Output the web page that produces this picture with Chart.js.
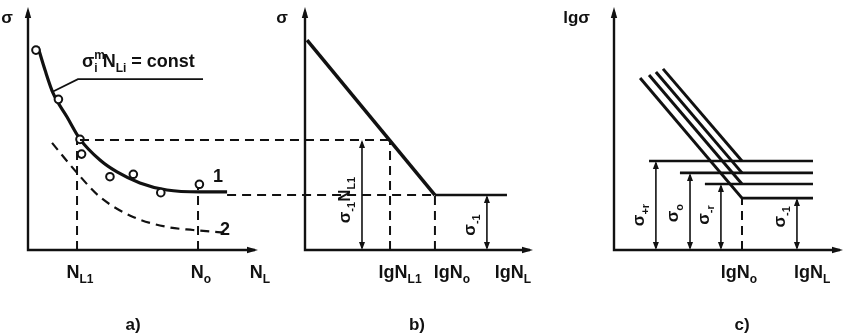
<!DOCTYPE html>
<html>
<head>
  <title>Кривые усталости</title>
  <script src="https://cdn.jsdelivr.net/npm/chart.js"></script>
  <style>
    body { margin: 0; background: #fff; }
    #wrap { position: relative; width: 845px; height: 335px; }
    #wrap canvas { position: absolute; left: 0; top: 0; }
  </style>
</head>
<body>
  <div id="wrap">
    <canvas id="chartA" width="845" height="335"></canvas>
    <canvas id="chartB" width="845" height="335"></canvas>
    <canvas id="chartC" width="845" height="335"></canvas>
  </div>
  <script>
    // a) σ – N, результаты испытаний и кривые
    const aTestN = [0.35, 1.34, 2.29, 2.36, 3.61, 4.64, 5.85, 7.55];
    const aTestS = [8.40, 6.33, 4.65, 4.03, 3.08, 3.18, 2.41, 2.76];
    const aCurve1N = [0.44, 0.75, 1.10, 1.72, 2.29, 3.17, 3.92, 4.93, 6.12, 7.58, 8.77];
    const aCurve1S = [8.53, 7.56, 6.60, 5.59, 4.66, 3.78, 3.28, 2.82, 2.52, 2.44, 2.44];
    const aCurve2N = [1.06, 2.16, 3.17, 4.63, 6.12, 7.27, 8.90];
    const aCurve2S = [4.50, 3.24, 2.23, 1.39, 0.97, 0.84, 0.71];
    const aLeaderN = [1.06, 2.20, 7.71];
    const aLeaderS = [6.64, 7.18, 7.18];
    const aNL1 = 2.16, aN0 = 7.49;
    const aTickAt = [2.29, 7.62, 10.22];
    const aTickText = ['N_{L1}', 'N_{o}', 'N_{L}'];

    // общие уровни напряжений для a) и b)
    const sigL1 = 4.62, sigLim = 2.31;

    // b) σ – lgN
    const bSlopeN = [0.09, 5.70];
    const bSlopeS = [8.82, sigLim];
    const bFlatN = [5.70, 8.86];
    const bLgNL1 = 3.73, bLgN0 = 5.70;
    const bArrowN = [2.50, 7.98];
    const bArrowS = [sigL1, sigLim];
    const bArrowText = ['σ_{-1}N_{L1}', 'σ_{-1}'];
    const bTickAt = [4.17, 6.45, 9.12];
    const bTickText = ['lgN_{L1}', 'lgN_{o}', 'lgN_{L}'];

    // c) lgσ – lgN, четыре коэффициента асимметрии
    const cTopN = [1.14, 1.53, 1.83, 2.14];
    const cTopS = [7.23, 7.35, 7.48, 7.61];
    const cLevel = [2.18, 2.77, 3.24, 3.74];
    const cLevelFrom = [5.59, 3.97, 2.88, 1.53];
    const cArrowN = [7.99, 4.67, 3.32, 1.83];
    const cArrowText = ['σ_{-1}', 'σ_{-r}', 'σ_{o}', 'σ_{+r}'];
    const cKnee = 5.59, cEnd = 8.69;
    const cTickAt = [5.46, 8.65];
    const cTickText = ['lgN_{o}', 'lgN_{L}'];

    const FONT = "'Liberation Sans', Arial, sans-serif";
    const INK = '#111';
    const DASH = [9, 6];

    // текст вида "N_{L1}" / "σ^{m}_{i}"
    function parseRich(s) {
      const parts = [];
      const re = /([_^])\{([^}]*)\}|([^_^]+)/g;
      let m;
      while ((m = re.exec(s))) {
        if (m[3]) parts.push({ t: m[3], k: 'n' });
        else parts.push({ t: m[2], k: m[1] === '_' ? 'sub' : 'sup' });
      }
      parts.forEach((p, i) => {
        p.adv = !(p.k === 'sup' && parts[i + 1] && parts[i + 1].k === 'sub');
      });
      return parts;
    }

    function drawRich(ctx, s, x, y, o) {
      const size = o.size || 18;
      const sub = Math.round(size * 0.66);
      const weight = o.weight || 'bold';
      const parts = parseRich(s);
      const fontOf = p => `${weight} ${p.k === 'n' ? size : sub}px ${FONT}`;
      let w = 0;
      parts.forEach(p => {
        ctx.font = fontOf(p);
        p.w = ctx.measureText(p.t).width;
        if (p.adv) w += p.w;
      });
      ctx.save();
      ctx.translate(x, y);
      if (o.rotate) ctx.rotate(-Math.PI / 2);
      ctx.fillStyle = INK;
      ctx.textBaseline = 'alphabetic';
      ctx.textAlign = 'left';
      let cx = o.align === 'left' ? 0 : o.align === 'right' ? -w : -w / 2;
      parts.forEach(p => {
        ctx.font = fontOf(p);
        const dy = p.k === 'sub' ? size * 0.28 : p.k === 'sup' ? -size * 0.42 : 0;
        ctx.fillText(p.t, cx, dy);
        if (p.adv) cx += p.w;
      });
      ctx.restore();
    }

    // наконечник стрелки, остриё в (x, y), направление (dx, dy)
    function head(ctx, x, y, dx, dy, len, half) {
      ctx.beginPath();
      ctx.moveTo(x, y);
      ctx.lineTo(x - dx * len - dy * half, y - dy * len + dx * half);
      ctx.lineTo(x - dx * len + dy * half, y - dy * len - dx * half);
      ctx.closePath();
      ctx.fill();
    }

    function figurePlugin(cfg) {
      return {
        id: 'figure-' + cfg.name,
        afterDatasetsDraw(chart) {
          const { ctx, chartArea: ca, scales: { x, y } } = chart;
          const x0 = x.getPixelForValue(0), y0 = y.getPixelForValue(0);
          ctx.save();
          ctx.strokeStyle = INK;
          ctx.fillStyle = INK;
          if (cfg.extra) cfg.extra(chart);
          // оси
          ctx.setLineDash([]);
          ctx.lineWidth = 2.4;
          ctx.beginPath();
          ctx.moveTo(x0, y0 + 1.2);
          ctx.lineTo(x0, ca.top);
          ctx.moveTo(x0 - 1.2, y0);
          ctx.lineTo(ca.right, y0);
          ctx.stroke();
          head(ctx, x0, ca.top - 5, 0, -1, 11, 3.2);
          head(ctx, ca.right + 3, y0, 1, 0, 11, 3.2);
          // размерные стрелки
          ctx.lineWidth = 1.6;
          (cfg.arrows || []).forEach(a => {
            const ax = x.getPixelForValue(a.x), top = y.getPixelForValue(a.top);
            ctx.beginPath();
            ctx.moveTo(ax, y0 - 2);
            ctx.lineTo(ax, top + 2);
            ctx.stroke();
            head(ctx, ax, top, 0, -1, 8, 3);
            head(ctx, ax, y0, 0, 1, 8, 3);
            drawRich(ctx, a.text, ax - 12, y.getPixelForValue(a.textAt), { size: 17, rotate: true });
          });
          ctx.restore();
          drawRich(ctx, cfg.yLabel, x0 - cfg.yGap, ca.top + 11, { size: 17, align: 'right' });
          cfg.ticks.forEach(t => drawRich(ctx, t.text, x.getPixelForValue(t.at), y0 + 28, { size: 18 }));
          (cfg.notes || []).forEach(n =>
            drawRich(ctx, n.text, x.getPixelForValue(n.x), y.getPixelForValue(n.y), { size: 18, align: n.align }));
          drawRich(ctx, cfg.caption, x.getPixelForValue(cfg.captionAt), y0 + 80, { size: 17 });
        }
      };
    }

    const pts = (xs, ys) => xs.map((v, i) => ({ x: v, y: ys[i] }));
    function line(data, width, dash, extra) {
      return Object.assign({
        data, showLine: true, borderColor: INK, borderWidth: width,
        borderDash: dash || [], pointRadius: 0, clip: false, fill: false
      }, extra || {});
    }
    function baseOptions(pad, xMax) {
      return {
        responsive: false, animation: false, events: [],
        layout: { padding: pad },
        scales: {
          x: { type: 'linear', min: 0, max: xMax, display: false },
          y: { type: 'linear', min: 0, max: 10, display: false }
        },
        plugins: { legend: { display: false }, tooltip: { enabled: false } }
      };
    }
    const zip = (ats, texts) => ats.map((at, i) => ({ at, text: texts[i] }));

    // ----- a) -----
    const chartA = new Chart(document.getElementById('chartA'), {
      type: 'scatter',
      data: {
        datasets: [
          { data: pts(aTestN, aTestS), showLine: false, pointRadius: 3.8, pointBorderWidth: 2,
            pointBorderColor: INK, pointBackgroundColor: '#fff', clip: false },
          line(pts(aCurve1N, aCurve1S), 3.2, null, { cubicInterpolationMode: 'monotone' }),
          line(pts(aCurve2N, aCurve2S), 2.2, DASH, { cubicInterpolationMode: 'monotone' }),
          line(pts(aLeaderN, aLeaderS), 1.8),
          line([{ x: aNL1, y: 0 }, { x: aNL1, y: sigL1 }], 2, DASH),
          line([{ x: aN0, y: 0 }, { x: aN0, y: aTestS[7] }], 2, DASH)
        ]
      },
      options: baseOptions({ left: 28, right: 590, top: 12, bottom: 85 }, 10),
      plugins: [figurePlugin({
        name: 'a', yLabel: 'σ', yGap: 15,
        ticks: zip(aTickAt, aTickText),
        notes: [
          { x: 2.38, y: 7.69, text: 'σ^{m}_{i} N_{Li} = const', align: 'left' },
          { x: 8.37, y: 2.86, text: '1' },
          { x: 8.68, y: 0.63, text: '2' }
        ],
        caption: 'a)', captionAt: 4.63
      })]
    });

    // ----- b) -----
    const links = [
      { from: aTestN[2], to: bLgNL1, s: sigL1 },
      { from: aCurve1N[aCurve1N.length - 1], to: bLgN0, s: sigLim }
    ];
    new Chart(document.getElementById('chartB'), {
      type: 'scatter',
      data: {
        datasets: [
          line(pts(bSlopeN, bSlopeS), 3.5),
          line(pts(bFlatN, [sigLim, sigLim]), 2.4),
          line([{ x: bLgNL1, y: 0 }, { x: bLgNL1, y: sigL1 }], 2, DASH),
          line([{ x: bLgN0, y: 0 }, { x: bLgN0, y: sigLim }], 2, DASH)
        ]
      },
      options: baseOptions({ left: 305, right: 315, top: 12, bottom: 85 }, 9.87),
      plugins: [figurePlugin({
        name: 'b', yLabel: 'σ', yGap: 17,
        ticks: zip(bTickAt, bTickText),
        arrows: [
          { x: bArrowN[0], top: bArrowS[0], text: bArrowText[0], textAt: 2.10 },
          { x: bArrowN[1], top: bArrowS[1], text: bArrowText[1], textAt: 1.05 }
        ],
        caption: 'b)', captionAt: 4.91,
        // штриховые выноски из a) в b)
        extra(chart) {
          const { ctx, scales: { x, y } } = chart;
          ctx.lineWidth = 2;
          ctx.setLineDash(DASH);
          links.forEach(l => {
            const py = y.getPixelForValue(l.s);
            ctx.beginPath();
            ctx.moveTo(chartA.scales.x.getPixelForValue(l.from), py);
            ctx.lineTo(x.getPixelForValue(l.to), py);
            ctx.stroke();
          });
        }
      })]
    });

    // ----- c) -----
    const cSets = [];
    cLevel.forEach((lv, i) => {
      cSets.push(line([{ x: cTopN[i], y: cTopS[i] }, { x: cKnee, y: lv }], 3));
      cSets.push(line([{ x: cLevelFrom[i], y: lv }, { x: cEnd, y: lv }], 2.6));
    });
    cSets.push(line([{ x: cKnee, y: 0 }, { x: cKnee, y: cLevel[0] }], 2, DASH));
    const cTextAt = [1.39, 1.47, 1.55, 1.47];
    new Chart(document.getElementById('chartC'), {
      type: 'scatter',
      data: { datasets: cSets },
      options: baseOptions({ left: 614, right: 5, top: 12, bottom: 85 }, 9.87),
      plugins: [figurePlugin({
        name: 'c', yLabel: 'lgσ', yGap: 24,
        ticks: zip(cTickAt, cTickText),
        arrows: cArrowN.map((v, i) => ({ x: v, top: cLevel[i], text: cArrowText[i], textAt: cTextAt[i] })),
        caption: 'c)', captionAt: cKnee
      })]
    });
  </script>
</body>
</html>
